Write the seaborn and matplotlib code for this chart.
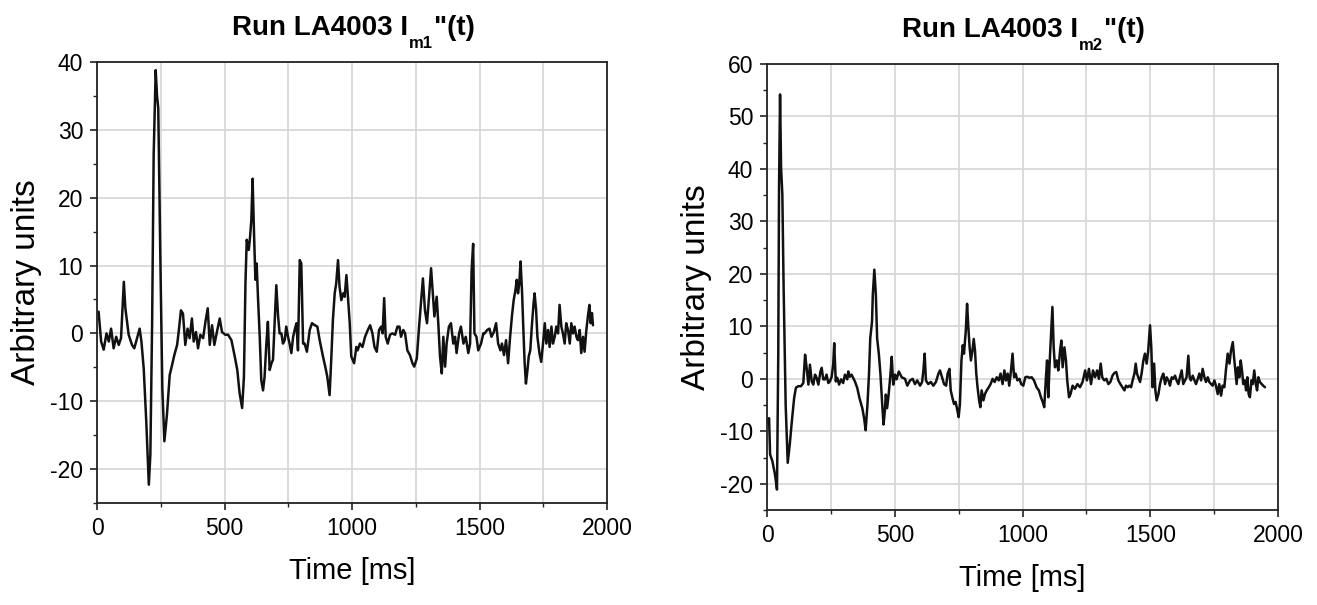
import numpy as np
import pandas as pd
import matplotlib
matplotlib.use("Agg")
import matplotlib.pyplot as plt
from matplotlib.ticker import MultipleLocator
from matplotlib.transforms import offset_copy
import seaborn as sns

# Second-derivative current signals, run LA4003
t_m1 = [6, 16, 26, 37, 46, 55, 65, 75, 85, 94, 105, 111, 124, 137, 146, 157, 167, 174, 183, 193,
        203, 209, 216, 222, 230, 235, 240, 248, 256, 264, 274, 285, 294, 303, 314, 320, 329, 337,
        346, 355, 363, 372, 379, 388, 396, 405, 416, 425, 434, 442, 451, 460, 470, 481, 490, 503,
        514, 527, 540, 550, 559, 569, 576, 582, 587, 595, 600, 605, 610, 616, 621, 626, 631, 638,
        644, 651, 657, 664, 670, 677, 684, 690, 697, 703, 710, 716, 723, 729, 736, 742, 749, 755,
        762, 769, 775, 782, 788, 795, 801, 808, 814, 823, 834, 843, 854, 864, 873, 886, 895, 903,
        912, 919, 925, 932, 938, 945, 951, 958, 965, 971, 978, 984, 991, 997, 1008, 1017, 1022,
        1031, 1041, 1051, 1062, 1071, 1080, 1088, 1097, 1106, 1114, 1120, 1126, 1132, 1140, 1149,
        1158, 1169, 1178, 1186, 1192, 1201, 1208, 1217, 1227, 1237, 1244, 1254, 1263, 1271, 1278,
        1286, 1294, 1302, 1310, 1316, 1323, 1332, 1339, 1345, 1352, 1358, 1365, 1371, 1380, 1388,
        1397, 1404, 1410, 1420, 1427, 1437, 1446, 1456, 1463, 1469, 1475, 1480, 1488, 1495, 1506,
        1515, 1520, 1530, 1539, 1547, 1556, 1565, 1573, 1582, 1588, 1596, 1604, 1612, 1620, 1627,
        1634, 1641, 1646, 1651, 1656, 1661, 1667, 1672, 1677, 1682, 1688, 1693, 1699, 1706, 1712,
        1716, 1722, 1727, 1735, 1742, 1749, 1756, 1762, 1769, 1775, 1782, 1788, 1795, 1801, 1808,
        1814, 1821, 1827, 1834, 1840, 1847, 1854, 1860, 1867, 1873, 1880, 1886, 1893, 1899, 1906,
        1912, 1919, 1925, 1931, 1936, 1941, 1945]
v_m1 = [3.2, -1.2, -2.4, 0.0, -1.2, 0.7, -2.2, -0.5, -1.7, -0.7, 7.6, 3.7, -0.2, -1.7, -2.2, -0.7,
        0.7, -1.2, -5.2, -13.0, -22.3, -17.9, 1.7, 26.3, 38.8, 35.1, 33.2, 11.6, -8.1, -15.9, -12.0,
        -6.1, -4.7, -3.2, -1.7, 0.2, 3.4, 2.9, -1.7, 0.7, -0.7, 2.2, -1.2, 0.2, -2.2, -0.2, -0.7,
        1.7, 3.7, -1.7, 1.2, -1.7, 0.2, 2.2, 0.2, -0.2, -0.2, -1.0, -3.4, -5.4, -8.8, -11.0, -6.4,
        7.4, 13.8, 12.3, 14.2, 16.7, 22.8, 14.2, 7.9, 10.3, 5.4, -0.5, -6.9, -8.4, -6.4, -1.5, 1.7,
        -5.4, -4.4, -3.9, 2.0, 7.1, 2.5, 0.0, 0.0, -1.5, -1.0, 1.0, -0.5, -1.5, -2.9, -0.5, 0.5,
        1.5, -2.5, 10.8, 10.3, -1.5, -1.5, -2.7, 0.5, 1.5, 1.2, 1.0, -1.0, -3.4, -4.9, -6.4, -9.1,
        -3.4, 2.0, 5.9, 7.4, 10.8, 6.9, 4.9, 5.9, 5.4, 8.6, 5.4, 1.5, -3.4, -4.4, -2.0, -2.5, -1.5,
        -2.0, -0.5, 0.5, 1.2, 0.0, -2.0, -2.7, 0.5, 1.0, 0.0, 5.2, -0.5, -1.5, -0.2, 0.0, -0.2,
        1.0, 1.0, -0.5, 0.5, 0.0, -2.5, -3.2, -4.4, -4.9, -3.7, 1.0, 4.9, 8.1, 3.4, 1.5, 5.4, 9.6,
        6.4, 2.5, 5.4, 1.0, -3.4, -5.9, -0.5, -4.9, -1.5, 1.0, 1.5, -1.5, -0.5, -2.9, 0.0, 1.0,
        -1.5, -0.5, -2.9, -1.5, 9.3, 13.2, 0.0, -0.5, -2.5, -1.5, 0.0, 0.0, 0.5, 0.7, -0.5, 0.2,
        1.5, -1.5, -2.5, -1.5, -3.2, -1.0, -4.4, -0.5, 2.5, 4.9, 6.4, 7.9, 5.9, 7.4, 10.6, 5.9,
        0.5, -4.4, -7.4, -5.4, -3.4, -2.5, 1.5, 4.4, 5.9, 3.4, -0.5, -2.9, -4.2, -1.5, 1.5, -1.5,
        0.5, -2.0, 1.0, -1.5, -0.5, 1.0, 0.0, 4.2, 1.0, 0.0, -1.5, 1.5, 0.5, -1.5, 1.5, 0.0, 1.0,
        -0.5, -1.0, 0.5, -2.9, -0.5, -2.7, 0.5, 2.5, 4.2, 1.5, 3.0, 1.2]

t_m2 = [0, 3, 8, 12, 21, 31, 39, 44, 47, 51, 55, 60, 65, 73, 81, 89, 96, 106, 113, 122, 133, 142,
        149, 155, 162, 168, 175, 181, 188, 194, 201, 209, 214, 220, 227, 233, 240, 246, 253, 259,
        263, 269, 275, 282, 290, 298, 305, 314, 318, 324, 331, 337, 344, 353, 362, 373, 380, 386,
        393, 399, 404, 411, 414, 420, 426, 431, 438, 444, 451, 456, 461, 465, 470, 476, 483, 488,
        494, 501, 507, 516, 527, 540, 549, 560, 570, 579, 588, 599, 607, 612, 617, 622, 631, 641,
        651, 661, 671, 677, 685, 693, 701, 707, 714, 719, 725, 732, 738, 745, 750, 755, 761, 766,
        771, 778, 783, 788, 793, 798, 804, 809, 814, 819, 824, 830, 835, 840, 847, 853, 860, 868,
        875, 883, 891, 899, 907, 914, 922, 929, 935, 942, 948, 955, 961, 967, 973, 980, 988, 995,
        1003, 1011, 1019, 1027, 1036, 1045, 1055, 1064, 1072, 1079, 1085, 1091, 1096, 1101, 1106,
        1111, 1117, 1122, 1127, 1134, 1140, 1147, 1152, 1157, 1164, 1170, 1175, 1182, 1188, 1196,
        1205, 1215, 1225, 1235, 1245, 1252, 1260, 1268, 1276, 1284, 1292, 1299, 1306, 1312, 1320,
        1328, 1336, 1344, 1352, 1359, 1367, 1375, 1383, 1391, 1399, 1405, 1412, 1418, 1425, 1431,
        1438, 1443, 1448, 1453, 1460, 1466, 1473, 1479, 1486, 1492, 1499, 1504, 1509, 1515, 1520,
        1525, 1532, 1538, 1545, 1551, 1558, 1564, 1571, 1577, 1584, 1590, 1597, 1603, 1610, 1616,
        1623, 1629, 1636, 1642, 1649, 1654, 1659, 1666, 1673, 1679, 1686, 1692, 1699, 1705, 1712,
        1718, 1725, 1731, 1738, 1744, 1751, 1757, 1764, 1770, 1777, 1783, 1790, 1796, 1803, 1810,
        1816, 1823, 1828, 1833, 1838, 1843, 1849, 1854, 1859, 1864, 1870, 1875, 1880, 1885, 1890,
        1896, 1901, 1907, 1913, 1918, 1923, 1929, 1936, 1942, 1949]
v_m2 = [-8.0, -8.3, -7.5, -14.4, -15.7, -18.2, -21.1, 4.6, 36.4, 54.2, 40.2, 35.1, 17.3, -5.0,
        -16.0, -12.5, -8.7, -3.7, -1.7, -1.4, -1.4, -0.8, 4.6, 2.1, -1.1, 2.7, -0.5, -1.1, 0.8, 0.2,
        -1.1, 1.4, 2.1, -0.1, -0.1, 0.8, -0.8, -0.5, 0.4, 2.7, 6.8, -0.5, 0.2, -1.1, -0.1, -0.8, 0.8,
        -0.1, 1.4, 0.4, 0.8, 0.2, -0.5, -1.7, -3.7, -5.6, -7.5, -9.8, -5.0, 0.8, 7.7, 10.9, 16.0,
        20.8, 16.0, 7.7, 4.6, 0.8, -5.0, -8.7, -6.2, -3.0, -5.6, -3.0, 0.8, 4.2, -1.1, 0.8, -0.1,
        1.4, 0.3, 0.0, -1.3, -0.3, 0.0, -1.0, -0.3, -1.3, -0.6, 1.6, 4.8, -0.3, -1.0, -0.6, -1.3,
        -0.6, 1.0, 1.6, 0.3, -1.0, -1.3, 1.0, 1.9, -2.2, -3.5, -4.8, -4.4, -6.0, -7.3, -4.8, 3.5,
        6.4, 4.8, 9.2, 14.3, 9.8, 6.0, 3.5, 5.4, 7.6, 5.4, 1.0, -1.6, -4.1, -5.4, -2.2, -4.1, -2.9,
        -2.2, -1.6, -1.0, 0.0, -0.6, 0.3, -0.3, 1.0, -1.0, 1.6, -0.3, 1.0, -1.3, 1.6, 4.8, 0.3,
        1.0, -0.3, 0.0, -1.0, -1.3, 0.3, 0.4, 0.2, 0.3, -0.3, -1.6, -2.2, -3.5, -4.4, -5.4, -0.3,
        3.5, -3.5, 2.9, 7.9, 13.7, 6.0, 2.2, 3.5, 1.6, 5.4, 7.3, 2.2, 6.0, 3.5, -0.3, -3.5, -2.9,
        -1.3, -1.9, -1.0, -1.6, -0.6, 1.6, -0.3, 1.9, -1.0, 1.6, 0.3, 1.6, 0.0, 2.9, 0.3, -0.3,
        0.0, -1.0, -0.6, 0.6, 1.1, 1.3, -0.3, -1.0, -1.6, -2.2, -1.3, -1.6, -1.3, -1.6, -0.3, 1.0,
        2.9, 1.0, 0.3, -0.6, 1.0, 3.5, 4.8, 2.9, 5.4, 10.2, 6.0, -1.6, 2.9, -2.2, -4.1, -2.9, -1.0,
        0.3, 1.0, -1.0, 0.3, -0.3, -1.3, 0.3, 0.0, 0.6, -0.3, -1.0, 0.3, 1.6, -1.0, -0.3, 0.3, 4.4,
        0.3, -0.3, 0.6, -0.3, -1.0, 0.0, 1.0, -0.3, 1.9, 0.3, -0.6, 0.3, -0.6, -1.0, -1.3, -0.3,
        -1.3, -2.9, -1.0, -3.2, -1.3, -1.6, 1.6, 4.8, 2.9, 5.4, 7.0, 4.1, 1.6, -1.0, 2.2, 0.3, 3.5,
        1.6, -1.0, -0.3, -2.2, 0.3, -2.9, -3.5, -0.3, -1.0, 1.6, -1.0, -2.2, 0.3, -0.6, -1.0, -1.3,
        -1.6]

x_ticks = [0, 500, 1000, 1500, 2000]
y_ticks_m1 = [-20, -10, 0, 10, 20, 30, 40]
y_ticks_m2 = [-20, -10, 0, 10, 20, 30, 40, 50, 60]
title_main = "Run LA4003 I"
title_subs = ["m1", "m2"]
title_tail = '"(t)'
x_label = "Time [ms]"
y_label = "Arbitrary units"

sns.set_theme(style="whitegrid")
plt.rcParams["font.family"] = ["Liberation Sans", "DejaVu Sans"]
plt.rcParams["axes.unicode_minus"] = False

fig = plt.figure(figsize=(13.17, 6.05), dpi=100)
fig.patch.set_facecolor("white")
ax1 = fig.add_axes([0.0737, 0.1686, 0.3872, 0.7289])
ax2 = fig.add_axes([0.5824, 0.1570, 0.3880, 0.7372])

panels = [
    (ax1, t_m1, v_m1, (-25, 40), y_ticks_m1, title_subs[0]),
    (ax2, t_m2, v_m2, (-25, 60), y_ticks_m2, title_subs[1]),
]

renderer = fig.canvas.get_renderer()


def draw_title(ax, sub):
    """Bold title with a dropped subscript, centred over the axes."""
    pieces = [(title_main, 20, 0), (sub, 12, -13), (title_tail, 20, 0)]
    texts = []
    for s, size, dy in pieces:
        t = ax.text(0.5, 1.0, s, transform=ax.transAxes, fontsize=size,
                    fontweight="bold", color="black", ha="left", va="baseline")
        texts.append((t, dy))
    widths = [t.get_window_extent(renderer).width for t, _ in texts]
    x0 = -sum(widths) / 2.0
    for (t, dy), w in zip(texts, widths):
        t.set_transform(offset_copy(ax.transAxes, fig=fig, x=x0, y=27 + dy, units="dots"))
        x0 += w + 1


for ax, t, v, ylim, yticks, sub in panels:
    df = pd.DataFrame({"t": t, "v": v})
    sns.lineplot(data=df, x="t", y="v", ax=ax, color="#111111", linewidth=1.8,
                 estimator=None, sort=False)
    ax.set_xlim(0, 2000)
    ax.set_ylim(*ylim)
    ax.set_xticks(x_ticks)
    ax.set_yticks(yticks)
    ax.xaxis.set_minor_locator(MultipleLocator(250))
    ax.yaxis.set_minor_locator(MultipleLocator(5))
    ax.set_facecolor("white")
    ax.grid(False)
    ax.grid(which="major", axis="y", color="#d6d6d6", linewidth=1.2)
    ax.grid(which="both", axis="x", color="#d6d6d6", linewidth=1.2)
    for s in ax.spines.values():
        s.set_visible(True)
        s.set_color("#222222")
        s.set_linewidth(1.3)
    ax.tick_params(axis="both", which="major", direction="out", length=5, width=1.2,
                   color="#222222", labelsize=16.5, labelcolor="black", pad=5,
                   bottom=True, left=True, top=False, right=False)
    ax.tick_params(axis="both", which="minor", direction="out", length=3, width=1.0,
                   color="#222222", bottom=True, left=True, top=False, right=False)
    ax.set_xlabel(x_label, fontsize=21, color="black", labelpad=12)
    ax.set_ylabel(y_label, fontsize=24, color="black", labelpad=6)
    draw_title(ax, sub)

fig.savefig("out.png", dpi=100, facecolor="white")
